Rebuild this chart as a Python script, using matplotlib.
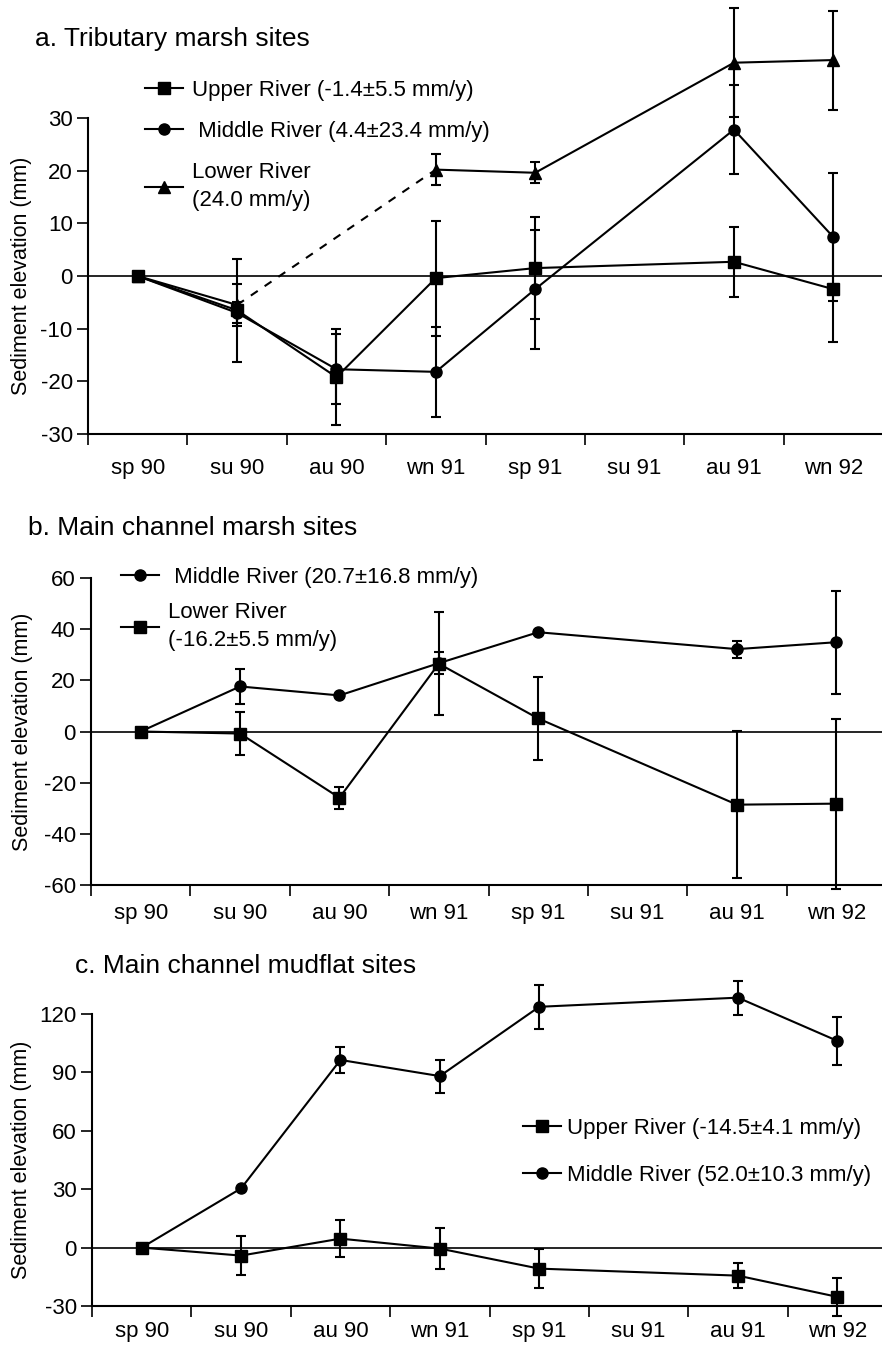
import numpy as np
import matplotlib
matplotlib.use("Agg")
import matplotlib.pyplot as plt
from matplotlib.ticker import FixedLocator, NullFormatter, FixedFormatter

plt.rcParams['font.family'] = ['Liberation Sans', 'DejaVu Sans']
plt.rcParams['axes.unicode_minus'] = False

seasons = ['sp 90', 'su 90', 'au 90', 'wn 91', 'sp 91', 'su 91', 'au 91', 'wn 92']
# no survey in su 91
xpos = np.array([0, 1, 2, 3, 4, 6, 7])

# a. tributary marsh
upper_a = [0, -6.5, -19.2, -0.4, 1.5, 2.7, -2.5]
upper_a_err = [0, 9.8, 9.1, 10.9, 9.7, 6.6, 10.0]
middle_a = [0, -7.0, -17.7, -18.2, -2.5, 27.8, 7.4]
middle_a_err = [0, 2.0, 6.6, 8.6, 11.3, 8.4, 12.2]
lower_a = [0, -5.5, np.nan, 20.2, 19.6, 40.5, 41.0]
lower_a_err = [0, 4.0, 0, 2.9, 2.0, 10.3, 9.4]

# b. main channel marsh
middle_b = [0, 17.6, 14.1, 26.7, 38.8, 32.2, 34.9]
middle_b_err = [0, 7.0, 0, 4.3, 0, 3.3, 20.2]
lower_b = [0, -0.8, -25.9, 26.5, 5.1, -28.6, -28.2]
lower_b_err = [0, 8.3, 4.3, 20.2, 16.3, 28.8, 33.2]

# c. main channel mudflat
upper_c = [0, -4.1, 4.6, -0.5, -10.8, -14.4, -25.3]
upper_c_err = [0, 10.0, 9.5, 10.5, 10.0, 6.6, 9.8]
middle_c = [0, 30.4, 96.4, 88.1, 123.7, 128.4, 106.2]
middle_c_err = [0, 0, 6.7, 8.5, 11.3, 8.7, 12.2]

W, H = 882, 1345
fig = plt.figure(figsize=(W / 100, H / 100), dpi=100)


def make_ax(left, right, top, bottom):
    return fig.add_axes([left / W, 1 - bottom / H, (right - left) / W, (bottom - top) / H])


def style_ax(ax, ylim, yticks, labelx, xpad):
    ax.set_xlim(-0.5, 7.5)
    ax.set_ylim(*ylim)
    ax.set_yticks(yticks)
    for s in ['top', 'right']:
        ax.spines[s].set_visible(False)
    for s in ['left', 'bottom']:
        ax.spines[s].set_linewidth(1.5)
    ax.xaxis.set_major_locator(FixedLocator(np.arange(-0.5, 8, 1)))
    ax.xaxis.set_major_formatter(NullFormatter())
    ax.xaxis.set_minor_locator(FixedLocator(np.arange(8)))
    ax.xaxis.set_minor_formatter(FixedFormatter(seasons))
    ax.tick_params(axis='x', which='major', direction='out', length=8, width=1.2)
    ax.tick_params(axis='x', which='minor', length=0, pad=xpad, labelsize=16)
    ax.tick_params(axis='y', direction='out', length=8, width=1.2, pad=3, labelsize=16)
    ax.axhline(0, color='k', lw=1.2, zorder=1)
    ax.set_ylabel('Sediment elevation (mm)', fontsize=15.5)
    ax.yaxis.set_label_coords(labelx, 0.5)


def series(ax, y, err, marker, ms, label):
    y = np.asarray(y, float)
    err = np.asarray(err, float)
    line, = ax.plot(xpos, y, color='k', lw=1.5, marker=marker, ms=ms,
                    label=label, clip_on=False, zorder=3)
    m = err > 0
    ax.errorbar(xpos[m], y[m], yerr=err[m], fmt='none', ecolor='k',
                elinewidth=1.5, capsize=3.5, capthick=1.5, clip_on=False, zorder=2)
    return line


def add_legend(ax, x, y, spacing, textpad=0.4):
    leg = ax.legend(loc='upper left', bbox_to_anchor=(x / W, 1 - y / H),
                    bbox_transform=fig.transFigure, frameon=False, fontsize=16,
                    handlelength=1.7, handletextpad=textpad, labelspacing=spacing,
                    borderpad=0, borderaxespad=0)
    for t in leg.get_texts():
        t.set_linespacing(1.45)
    return leg


# panel a
ax1 = make_ax(88, 883, 118, 434)
style_ax(ax1, (-30, 30), [-30, -20, -10, 0, 10, 20, 30], -0.070, 17)
series(ax1, upper_a, upper_a_err, 's', 8.5, 'Upper River (-1.4±5.5 mm/y)')
series(ax1, middle_a, middle_a_err, 'o', 8, ' Middle River (4.4±23.4 mm/y)')
series(ax1, lower_a, lower_a_err, '^', 8.5, 'Lower River\n(24.0 mm/y)')
# missing au 90 sample bridged by dashes
la = np.asarray(lower_a)
ax1.plot(xpos[[1, 3]], la[[1, 3]], color='k', lw=1.5, ls=(0, (4, 4)), zorder=2)
add_legend(ax1, 145, 80, 0.9)
fig.text(35 / W, 1 - 39 / H, 'a. Tributary marsh sites', fontsize=19, va='center')

# panel b
ax2 = make_ax(91, 886, 578, 885)
style_ax(ax2, (-60, 60), [-60, -40, -20, 0, 20, 40, 60], -0.073, 13)
series(ax2, middle_b, middle_b_err, 'o', 8, ' Middle River (20.7±16.8 mm/y)')
series(ax2, lower_b, lower_b_err, 's', 8.5, 'Lower River\n(-16.2±5.5 mm/y)')
add_legend(ax2, 121, 567, 0.62)
fig.text(28 / W, 1 - 528 / H, 'b. Main channel marsh sites', fontsize=19, va='center')

# panel c
ax3 = make_ax(92, 887, 1014, 1306)
style_ax(ax3, (-30, 120), [-30, 0, 30, 60, 90, 120], -0.075, 11)
series(ax3, upper_c, upper_c_err, 's', 8.5, 'Upper River (-14.5±4.1 mm/y)')
series(ax3, middle_c, middle_c_err, 'o', 8, 'Middle River (52.0±10.3 mm/y)')
add_legend(ax3, 523, 1118, 1.15, textpad=0.3)
fig.text(75 / W, 1 - 966 / H, 'c. Main channel mudflat sites', fontsize=19, va='center')

fig.savefig('out.png', dpi=100)
